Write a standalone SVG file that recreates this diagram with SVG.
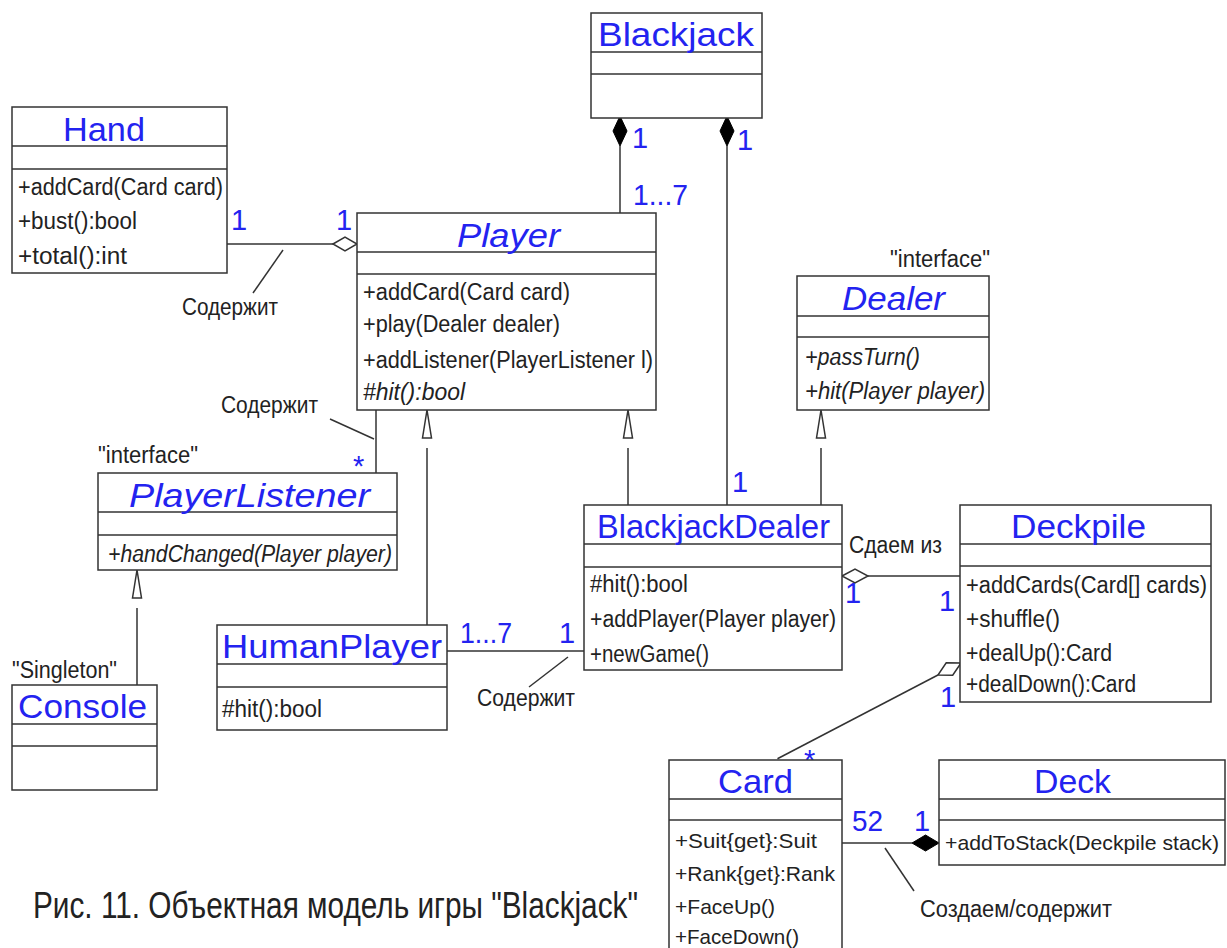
<svg xmlns="http://www.w3.org/2000/svg" width="1227" height="948" viewBox="0 0 1227 948">
<style>
.bg{fill:#ffffff}
.box{fill:#ffffff;stroke:#333333;stroke-width:1.5}
.div{stroke:#333333;stroke-width:1.5}
.ln{stroke:#333333;stroke-width:1.5;fill:none}
.t{font-family:"Liberation Sans","DejaVu Sans",sans-serif;font-size:23px;fill:#222222}
.sm{font-size:21px}
.it{font-style:italic}
.title{font-family:"Liberation Sans","DejaVu Sans",sans-serif;font-size:33px;fill:#2323f0}
.lbl{font-family:"Liberation Sans","DejaVu Sans",sans-serif;font-size:29px;fill:#2323f0}
.cap{font-family:"Liberation Sans","DejaVu Sans",sans-serif;font-size:36px;fill:#222222}
.hollow{fill:#ffffff;stroke:#333333;stroke-width:1.5}
.solid{fill:#000000;stroke:#000000;stroke-width:1}
</style>
<rect class="bg" x="0" y="0" width="1227" height="948"/>

<g id="connectors">
  <!-- Hand - Player aggregation -->
  <line class="ln" x1="227" y1="244" x2="333" y2="244"/>
  <polygon class="hollow" points="333,244 345,237 357,244 345,251"/>
  <line class="ln" x1="253" y1="293" x2="283" y2="250"/>
  <!-- Blackjack - Player composition -->
  <line class="ln" x1="620" y1="146" x2="620" y2="213"/>
  <polygon class="solid" points="620,116 627,131 620,146 613,131"/>
  <!-- Blackjack - BlackjackDealer composition -->
  <line class="ln" x1="727" y1="146" x2="727" y2="505"/>
  <polygon class="solid" points="727,116 734,131 727,146 720,131"/>
  <!-- BlackjackDealer -> Player -->
  <polygon class="hollow" points="628,410 623.5,438 632.5,438"/>
  <line class="ln" x1="628" y1="448" x2="628" y2="505"/>
  <!-- BlackjackDealer -> Dealer -->
  <polygon class="hollow" points="821,410 816.5,438 825.5,438"/>
  <line class="ln" x1="821" y1="448" x2="821" y2="505"/>
  <!-- HumanPlayer -> Player -->
  <polygon class="hollow" points="427,410 422.5,438 431.5,438"/>
  <line class="ln" x1="427" y1="448" x2="427" y2="625"/>
  <!-- Console -> PlayerListener -->
  <polygon class="hollow" points="137,570 132.5,598 141.5,598"/>
  <line class="ln" x1="137" y1="608" x2="137" y2="685"/>
  <!-- Player - PlayerListener -->
  <line class="ln" x1="376" y1="410" x2="376" y2="473"/>
  <line class="ln" x1="330" y1="419" x2="374" y2="439"/>
  <!-- HumanPlayer - BlackjackDealer -->
  <line class="ln" x1="447" y1="651" x2="584" y2="651"/>
  <line class="ln" x1="529" y1="687" x2="568" y2="657"/>
  <!-- BlackjackDealer - Deckpile -->
  <line class="ln" x1="868" y1="576" x2="960" y2="576"/>
  <polygon class="hollow" points="842,576 855,569 868,576 855,583"/>
  <!-- Deckpile - Card -->
  <g transform="translate(961,663) rotate(152.45)">
    <line class="ln" x1="26" y1="0" x2="207" y2="0"/>
    <polygon class="hollow" points="0,0 13,-7 26,0 13,7"/>
  </g>
  <!-- Card - Deck composition -->
  <line class="ln" x1="842" y1="843" x2="912" y2="843"/>
  <polygon class="solid" points="912,843 925.5,835 939,843 925.5,851"/>
  <line class="ln" x1="885" y1="848" x2="914" y2="891"/>

  <!-- multiplicities -->
  <text class="lbl" x="231" y="230">1</text>
  <text class="lbl" x="336" y="230">1</text>
  <text class="lbl" x="632" y="148">1</text>
  <text class="lbl" x="633" y="205" textLength="55" lengthAdjust="spacingAndGlyphs">1...7</text>
  <text class="lbl" x="737" y="150">1</text>
  <text class="lbl" x="732" y="492">1</text>
  <text class="lbl" x="353" y="476">*</text>
  <text class="lbl" x="460" y="643" textLength="52" lengthAdjust="spacingAndGlyphs">1...7</text>
  <text class="lbl" x="559" y="643">1</text>
  <text class="lbl" x="845" y="603">1</text>
  <text class="lbl" x="939" y="611">1</text>
  <text class="lbl" x="940" y="707">1</text>
  <text class="lbl" x="804" y="770">*</text>
  <text class="lbl" x="852" y="831" textLength="31" lengthAdjust="spacingAndGlyphs">52</text>
  <text class="lbl" x="914" y="831">1</text>

  <!-- annotations -->
  <text class="t" x="182" y="315" textLength="96" lengthAdjust="spacingAndGlyphs">Содержит</text>
  <text class="t" x="221" y="413" textLength="97" lengthAdjust="spacingAndGlyphs">Содержит</text>
  <text class="t" x="477" y="706" textLength="98" lengthAdjust="spacingAndGlyphs">Содержит</text>
  <text class="t" x="849" y="553" textLength="93" lengthAdjust="spacingAndGlyphs">Сдаем из</text>
  <text class="t" x="920" y="917" textLength="192" lengthAdjust="spacingAndGlyphs">Создаем/содержит</text>
</g>

<g id="blackjack">
  <rect class="box" x="591" y="13" width="171" height="105"/>
  <line class="div" x1="591" y1="52" x2="762" y2="52"/>
  <line class="div" x1="591" y1="74" x2="762" y2="74"/>
  <text class="title" x="598" y="46" textLength="156" lengthAdjust="spacingAndGlyphs">Blackjack</text>
</g>

<g id="hand">
  <rect class="box" x="12" y="107" width="215" height="166"/>
  <line class="div" x1="12" y1="146" x2="227" y2="146"/>
  <line class="div" x1="12" y1="169" x2="227" y2="169"/>
  <text class="title" x="63" y="141" textLength="82" lengthAdjust="spacingAndGlyphs">Hand</text>
  <text class="t" x="18" y="195" textLength="205" lengthAdjust="spacingAndGlyphs">+addCard(Card card)</text>
  <text class="t" x="18" y="229" textLength="119" lengthAdjust="spacingAndGlyphs">+bust():bool</text>
  <text class="t" x="18" y="264" textLength="109" lengthAdjust="spacingAndGlyphs">+total():int</text>
</g>

<g id="player">
  <rect class="box" x="357" y="213" width="299" height="197"/>
  <line class="div" x1="357" y1="252" x2="656" y2="252"/>
  <line class="div" x1="357" y1="274" x2="656" y2="274"/>
  <text class="title it" x="457" y="247" textLength="103" lengthAdjust="spacingAndGlyphs">Player</text>
  <text class="t" x="363" y="300" textLength="207" lengthAdjust="spacingAndGlyphs">+addCard(Card card)</text>
  <text class="t" x="363" y="332" textLength="197" lengthAdjust="spacingAndGlyphs">+play(Dealer dealer)</text>
  <text class="t" x="363" y="368" textLength="290" lengthAdjust="spacingAndGlyphs">+addListener(PlayerListener l)</text>
  <text class="t it" x="363" y="400" textLength="102" lengthAdjust="spacingAndGlyphs">#hit():bool</text>
</g>

<g id="dealer">
  <text class="t" x="890" y="267" textLength="100" lengthAdjust="spacingAndGlyphs">"interface"</text>
  <rect class="box" x="797" y="276" width="192" height="134"/>
  <line class="div" x1="797" y1="316" x2="989" y2="316"/>
  <line class="div" x1="797" y1="337" x2="989" y2="337"/>
  <text class="title it" x="842" y="310" textLength="103" lengthAdjust="spacingAndGlyphs">Dealer</text>
  <text class="t it" x="805" y="365" textLength="115" lengthAdjust="spacingAndGlyphs">+passTurn()</text>
  <text class="t it" x="805" y="399" textLength="180" lengthAdjust="spacingAndGlyphs">+hit(Player player)</text>
</g>

<g id="playerlistener">
  <text class="t" x="98" y="463" textLength="100" lengthAdjust="spacingAndGlyphs">"interface"</text>
  <rect class="box" x="98" y="473" width="299" height="97"/>
  <line class="div" x1="98" y1="512" x2="397" y2="512"/>
  <line class="div" x1="98" y1="535" x2="397" y2="535"/>
  <text class="title it" x="129" y="507" textLength="241" lengthAdjust="spacingAndGlyphs">PlayerListener</text>
  <text class="t it" x="108" y="562" textLength="284" lengthAdjust="spacingAndGlyphs">+handChanged(Player player)</text>
</g>

<g id="console">
  <text class="t" x="12" y="678" textLength="105" lengthAdjust="spacingAndGlyphs">"Singleton"</text>
  <rect class="box" x="12" y="685" width="145" height="105"/>
  <line class="div" x1="12" y1="724" x2="157" y2="724"/>
  <line class="div" x1="12" y1="746" x2="157" y2="746"/>
  <text class="title" x="18" y="718" textLength="129" lengthAdjust="spacingAndGlyphs">Console</text>
</g>

<g id="humanplayer">
  <rect class="box" x="217" y="625" width="230" height="105"/>
  <line class="div" x1="217" y1="664" x2="447" y2="664"/>
  <line class="div" x1="217" y1="687" x2="447" y2="687"/>
  <text class="title" x="222" y="658" textLength="220" lengthAdjust="spacingAndGlyphs">HumanPlayer</text>
  <text class="t" x="222" y="717" textLength="100" lengthAdjust="spacingAndGlyphs">#hit():bool</text>
</g>

<g id="blackjackdealer">
  <rect class="box" x="584" y="505" width="258" height="165"/>
  <line class="div" x1="584" y1="544" x2="842" y2="544"/>
  <line class="div" x1="584" y1="567" x2="842" y2="567"/>
  <text class="title" x="597" y="538" textLength="233" lengthAdjust="spacingAndGlyphs">BlackjackDealer</text>
  <text class="t" x="590" y="592" textLength="98" lengthAdjust="spacingAndGlyphs">#hit():bool</text>
  <text class="t" x="590" y="627" textLength="246" lengthAdjust="spacingAndGlyphs">+addPlayer(Player player)</text>
  <text class="t" x="590" y="662" textLength="119" lengthAdjust="spacingAndGlyphs">+newGame()</text>
</g>

<g id="deckpile">
  <rect class="box" x="960" y="505" width="251" height="197"/>
  <line class="div" x1="960" y1="544" x2="1211" y2="544"/>
  <line class="div" x1="960" y1="566" x2="1211" y2="566"/>
  <text class="title" x="1011" y="538" textLength="135" lengthAdjust="spacingAndGlyphs">Deckpile</text>
  <text class="t" x="966" y="593" textLength="241" lengthAdjust="spacingAndGlyphs">+addCards(Card[] cards)</text>
  <text class="t" x="966" y="627" textLength="94" lengthAdjust="spacingAndGlyphs">+shuffle()</text>
  <text class="t" x="966" y="661" textLength="146" lengthAdjust="spacingAndGlyphs">+dealUp():Card</text>
  <text class="t" x="966" y="692" textLength="170" lengthAdjust="spacingAndGlyphs">+dealDown():Card</text>
</g>

<g id="card">
  <rect class="box" x="669" y="760" width="173" height="200"/>
  <line class="div" x1="669" y1="799" x2="842" y2="799"/>
  <line class="div" x1="669" y1="820" x2="842" y2="820"/>
  <text class="title" x="718" y="793" textLength="75" lengthAdjust="spacingAndGlyphs">Card</text>
  <text class="t sm" x="675" y="848" textLength="142" lengthAdjust="spacingAndGlyphs">+Suit{get}:Suit</text>
  <text class="t sm" x="675" y="881" textLength="160" lengthAdjust="spacingAndGlyphs">+Rank{get}:Rank</text>
  <text class="t sm" x="675" y="914" textLength="100" lengthAdjust="spacingAndGlyphs">+FaceUp()</text>
  <text class="t sm" x="675" y="944" textLength="124" lengthAdjust="spacingAndGlyphs">+FaceDown()</text>
</g>

<g id="deck">
  <rect class="box" x="939" y="760" width="286" height="105"/>
  <line class="div" x1="939" y1="799" x2="1225" y2="799"/>
  <line class="div" x1="939" y1="820" x2="1225" y2="820"/>
  <text class="title" x="1034" y="793" textLength="77" lengthAdjust="spacingAndGlyphs">Deck</text>
  <text class="t sm" x="945" y="850" textLength="274" lengthAdjust="spacingAndGlyphs">+addToStack(Deckpile stack)</text>
</g>

<g id="caption">
  <text class="cap" x="33" y="918" textLength="605" lengthAdjust="spacingAndGlyphs">Рис. 11. Объектная модель игры "Blackjack"</text>
</g>
</svg>
